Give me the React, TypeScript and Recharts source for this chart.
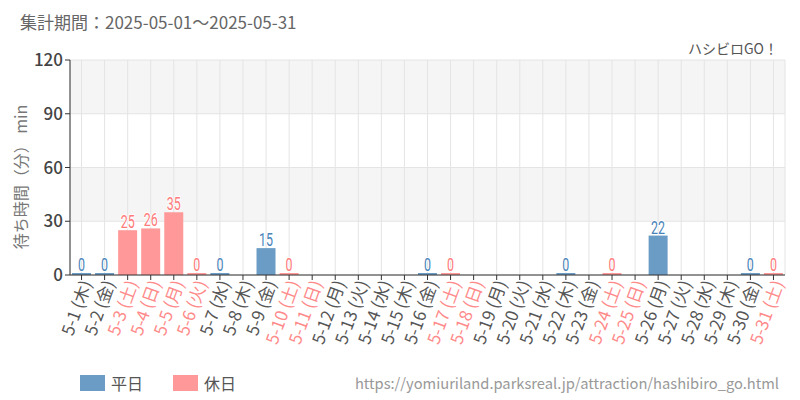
import React from "react";
import { BarChart, Bar, XAxis, YAxis, CartesianGrid, Cell, LabelList } from "recharts";

const dates = ["5-1","5-2","5-3","5-4","5-5","5-6","5-7","5-8","5-9","5-10","5-11","5-12","5-13","5-14","5-15","5-16","5-17","5-18","5-19","5-20","5-21","5-22","5-23","5-24","5-25","5-26","5-27","5-28","5-29","5-30","5-31"];
const weekdays = ["木","金","土","日","月","火","水","木","金","土","日","月","火","水","木","金","土","日","月","火","水","木","金","土","日","月","火","水","木","金","土"];
const holidays = [false,false,true,true,true,true,false,false,false,true,true,false,false,false,false,false,true,true,false,false,false,false,false,true,true,false,false,false,false,false,true];
const waitValues: (number | null)[] = [0,0,25,26,35,0,0,null,15,0,null,null,null,null,null,0,0,null,null,null,null,0,null,0,null,22,null,null,null,0,0];
const yTicks = [0, 30, 60, 90, 120];

const WEEKDAY_BAR = "#6a9cc6";
const HOLIDAY_BAR = "#ff9898";
const WEEKDAY_LABEL = "#4a84ba";
const HOLIDAY_LABEL = "#ff7a7a";
const WEEKDAY_TICK = "#555555";
const HOLIDAY_TICK = "#ff8a8a";
const FONT = "'Noto Sans CJK JP', 'Noto Sans', sans-serif";

const data = dates.map((d, i) => ({
  name: d,
  wd: weekdays[i],
  holiday: holidays[i],
  value: waitValues[i],
}));

const XTick = (props: any) => {
  const { x, y, payload } = props;
  const i = dates.indexOf(payload.value);
  const color = holidays[i] ? HOLIDAY_TICK : WEEKDAY_TICK;
  return (
    <g transform={`translate(${x + 5},${y - 1})`}>
      <text
        transform="rotate(-70)"
        textAnchor="end"
        fill={color}
        fontSize={17}
        fontFamily={FONT}
        dy={6}
      >
        {payload.value} ({weekdays[i]})
      </text>
    </g>
  );
};

const BarLabel = (props: any) => {
  const { x, y, width, value } = props;
  const i = dates.indexOf(value);
  if (i < 0) return null;
  const v = waitValues[i];
  if (v === null || v === undefined) return null;
  const color = holidays[i] ? HOLIDAY_LABEL : WEEKDAY_LABEL;
  const s = String(v);
  return (
    <text
      x={x + width / 2}
      y={y - 2}
      textAnchor="middle"
      fill={color}
      stroke="#ffffff"
      strokeWidth={2}
      paintOrder="stroke"
      fontSize={19}
      fontFamily="Roboto, sans-serif"
      textLength={s.length * 7}
      lengthAdjust="spacingAndGlyphs"
    >
      {s}
    </text>
  );
};

export default function App() {
  if (typeof document !== "undefined") document.body.style.margin = "0";
  return (
    <div style={{ position: "relative", width: 800, height: 400, background: "#fff", fontFamily: FONT }}>
      <div style={{ position: "absolute", left: 20, top: 10, fontSize: 17, color: "#666", whiteSpace: "nowrap", lineHeight: "24px" }}>
        集計期間：2025-05-01～2025-05-31
      </div>
      <div style={{ position: "absolute", right: 22, top: 38, fontSize: 14, color: "#555", whiteSpace: "nowrap", lineHeight: "20px" }}>
        ハシビロGO！
      </div>
      <BarChart
        width={800}
        height={400}
        data={data}
        margin={{ top: 60, right: 15, left: 0, bottom: 0 }}
        barSize={19}
      >
        <CartesianGrid
          stroke="#e4e4e4"
          horizontalFill={["#f5f5f5", "#ffffff"]}
          fillOpacity={1}
        />
        <XAxis
          dataKey="name"
          interval={0}
          height={125}
          tick={<XTick />}
          tickSize={5}
          stroke="#333"
          axisLine={{ stroke: "#333" }}
          tickLine={{ stroke: "#333" }}
        />
        <YAxis
          width={70}
          domain={[0, 120]}
          ticks={yTicks}
          interval={0}
          tickSize={5}
          axisLine={{ stroke: "#333" }}
          tickLine={{ stroke: "#333" }}
          tick={{ fill: "#444", fontSize: 17, fontFamily: FONT, fontWeight: 500 }}
        />
        <Bar
          dataKey="value"
          isAnimationActive={false}
          minPointSize={(v: any) => (v === 0 ? 2 : 0)}
        >
          {data.map((d, i) => (
            <Cell key={i} fill={d.holiday ? HOLIDAY_BAR : WEEKDAY_BAR} />
          ))}
          <LabelList dataKey="name" content={<BarLabel />} />
        </Bar>
      </BarChart>
      <div
        style={{
          position: "absolute",
          left: 20,
          top: 177,
          transform: "translate(-50%, -50%) rotate(-90deg)",
          fontSize: 16,
          color: "#777",
          whiteSpace: "nowrap",
        }}
      >
        待ち時間（分） min
      </div>
      <div style={{ position: "absolute", left: 80, top: 375, display: "flex", alignItems: "center", fontSize: 16, color: "#555", lineHeight: "16px" }}>
        <span style={{ display: "inline-block", width: 25, height: 16, background: WEEKDAY_BAR, marginRight: 6 }} />
        <span>平日</span>
        <span style={{ display: "inline-block", width: 25, height: 16, background: HOLIDAY_BAR, marginLeft: 30, marginRight: 6 }} />
        <span>休日</span>
      </div>
      <div style={{ position: "absolute", right: 21, top: 373, fontSize: 14.7, color: "#999", whiteSpace: "nowrap", lineHeight: "20px" }}>
        https://yomiuriland.parksreal.jp/attraction/hashibiro_go.html
      </div>
    </div>
  );
}
